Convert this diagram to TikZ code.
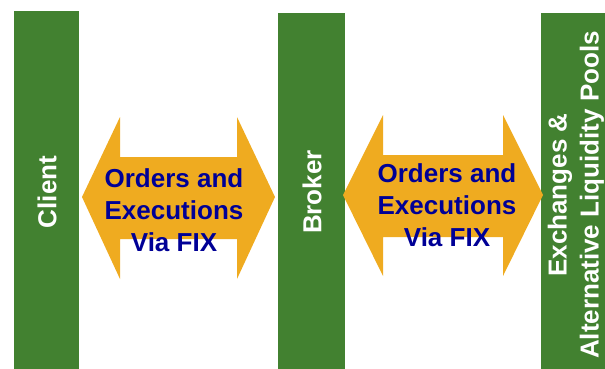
\documentclass[tikz,border=0pt]{standalone}
\usepackage{fontspec}
\setmainfont{Liberation Sans}
\definecolor{barGreen}{RGB}{66,129,48}
\definecolor{arrOrange}{RGB}{239,171,32}
\definecolor{txtBlue}{RGB}{0,0,150}
\tikzset{
  bar/.style={fill=barGreen, draw=none},
  bigarrow/.style={fill=arrOrange, draw=none},
  barlabel/.style={text=white, font=\bfseries\fontsize{26}{32}\selectfont, rotate=90, align=center, inner sep=0pt},
  arrlabel/.style={text=txtBlue, font=\bfseries\fontsize{26}{32}\selectfont, align=center, inner sep=0pt}
}
\begin{document}
\begin{tikzpicture}[x=1pt,y=-1pt]
\useasboundingbox (0,0) rectangle (605,368);
% bars
\path[bar] (14,11) rectangle (79,370);
\path[bar] (278,13) rectangle (345,370);
\path[bar] (541,13) rectangle (610,370);
\node[barlabel] (client) at (47,192) {Client};
\node[barlabel] (broker) at (312,192) {Broker};
\node[barlabel] (exch) at (576,195) {Exchanges \&\\Alternative Liquidity Pools};
% arrows
\path[bigarrow] (82,197) -- (120,117) -- (120,157) -- (237,157) -- (237,117) -- (275,197)
  -- (237,279) -- (237,239) -- (120,239) -- (120,279) -- cycle;
\path[bigarrow] (343,195) -- (383,115) -- (383,155) -- (503,155) -- (503,115) -- (543,195)
  -- (503,276) -- (503,237) -- (383,237) -- (383,276) -- cycle;
\node[arrlabel] (a1) at (174,210) {Orders and\\Executions\\Via FIX};
\node[arrlabel] (a2) at (447,205) {Orders and\\Executions\\Via FIX};
\end{tikzpicture}
\end{document}
